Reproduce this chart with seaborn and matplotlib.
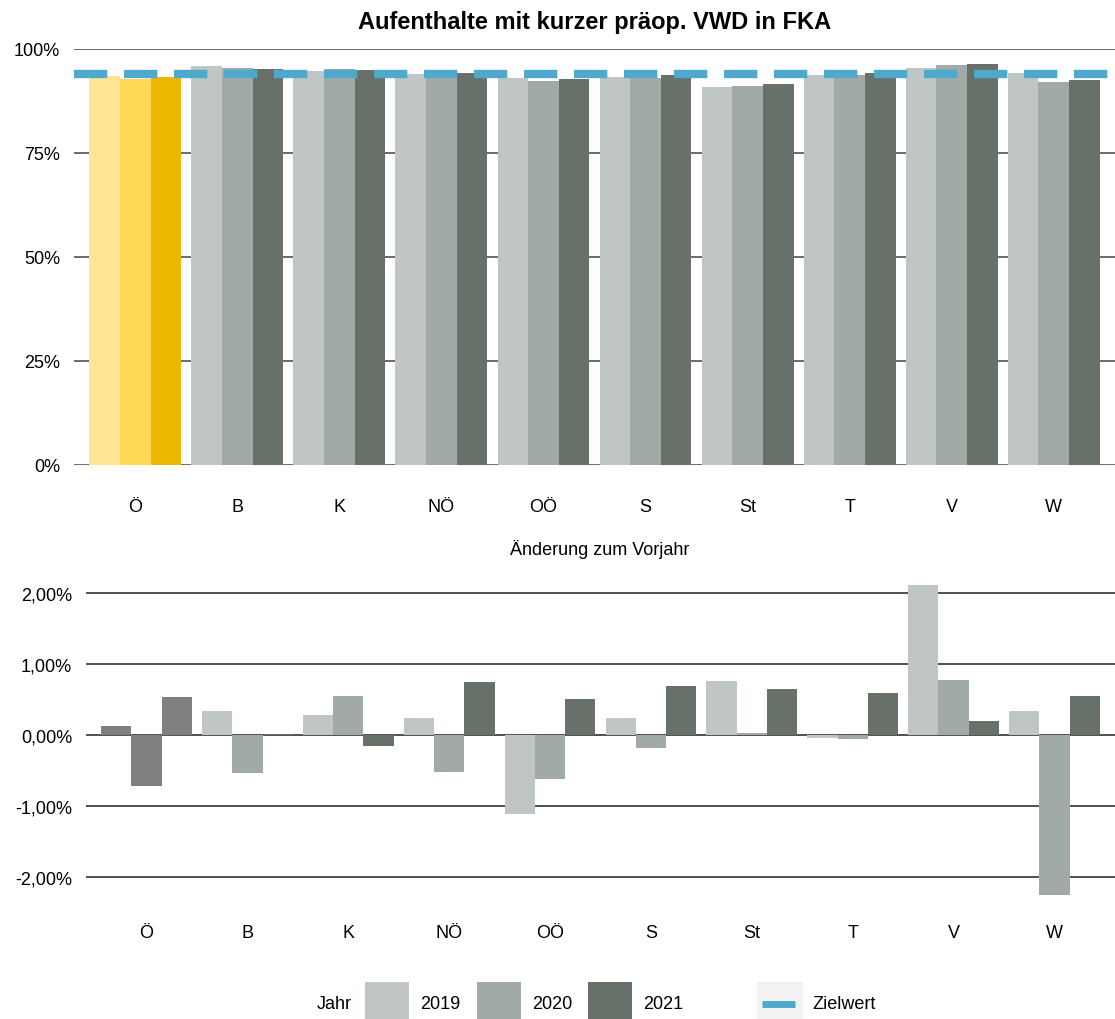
import matplotlib
matplotlib.use("Agg")
import matplotlib.pyplot as plt
from matplotlib.patches import Rectangle
from matplotlib.lines import Line2D
import pandas as pd
import seaborn as sns

# data
regions = ["Ö", "B", "K", "NÖ", "OÖ", "S", "St", "T", "V", "W"]
years = ["2019", "2020", "2021"]
share_2019 = [93.5, 95.9, 94.8, 94.0, 93.0, 93.3, 90.95, 93.75, 95.5, 94.2]
share_2020 = [92.8, 95.4, 95.3, 93.5, 92.4, 93.1, 91.0, 93.7, 96.25, 92.0]
share_2021 = [93.3, 95.2, 95.0, 94.2, 92.9, 93.75, 91.65, 94.25, 96.45, 92.55]
change_2019 = [0.12, 0.34, 0.28, 0.23, -1.11, 0.24, 0.75, -0.05, 2.10, 0.34]
change_2020 = [-0.72, -0.535, 0.54, -0.52, -0.62, -0.19, 0.03, -0.056, 0.765, -2.25]
change_2021 = [0.53, 0.005, -0.155, 0.746, 0.50, 0.68, 0.65, 0.58, 0.19, 0.54]
target = 94.0
top_ticks = [0, 25, 50, 75, 100]
top_ticklabels = ["0%", "25%", "50%", "75%", "100%"]
bottom_ticks = [-2, -1, 0, 1, 2]
bottom_ticklabels = ["-2,00%", "-1,00%", "0,00%", "1,00%", "2,00%"]

year_colors = {"2019": "#C0C6C1", "2020": "#A2AAA5", "2021": "#67716A"}
oe_colors = ["#FFE591", "#FFD956", "#EBB700"]
oe_change_color = "#808080"
target_color = "#4FA9CC"

share = pd.DataFrame({"region": regions * 3,
                      "Jahr": [y for y in years for _ in regions],
                      "value": share_2019 + share_2020 + share_2021})
change = pd.DataFrame({"region": regions * 3,
                       "Jahr": [y for y in years for _ in regions],
                       "value": change_2019 + change_2020 + change_2021})

sns.set_theme(style="white")
plt.rcParams["font.family"] = ["Liberation Sans", "DejaVu Sans"]
plt.rcParams["text.color"] = "black"

W, H = 1115, 1020
fig = plt.figure(figsize=(W / 100, H / 100), dpi=100)


def px_axes(left, top, right, bottom):
    return fig.add_axes([left / W, 1 - bottom / H, (right - left) / W, (bottom - top) / H])


# top panel
ax1 = px_axes(74, 50, 1115, 466)
sns.barplot(data=share, x="region", y="value", hue="Jahr", order=regions,
            hue_order=years, palette=year_colors, width=0.9, saturation=1,
            linewidth=0, legend=False, ax=ax1)
for cont, c in zip(ax1.containers, oe_colors):
    cont[0].set_facecolor(c)
ax1.axhline(target, color=target_color, lw=6, dashes=(4, 2), zorder=5)
ax1.set_ylim(0, 100)
ax1.set_xlim(-0.6, 9.6)
ax1.set_yticks(top_ticks)
ax1.set_yticklabels(top_ticklabels)

# bottom panel
ax2 = px_axes(86, 580, 1115, 900)
sns.barplot(data=change, x="region", y="value", hue="Jahr", order=regions,
            hue_order=years, palette=year_colors, width=0.9, saturation=1,
            linewidth=0, legend=False, ax=ax2)
for cont in ax2.containers:
    cont[0].set_facecolor(oe_change_color)
ax2.set_ylim(-2.31, 2.19)
ax2.set_xlim(-0.6, 9.6)
ax2.set_yticks(bottom_ticks)
ax2.set_yticklabels(bottom_ticklabels)

for ax, pad, gc in [(ax1, 24, "#444444"), (ax2, 18, "#222222")]:
    ax.set_xlabel("")
    ax.set_ylabel("")
    ax.set_axisbelow(True)
    ax.yaxis.grid(True, color=gc, lw=1.1)
    ax.xaxis.grid(False)
    for s in ax.spines.values():
        s.set_visible(False)
    ax.tick_params(axis="x", length=0, pad=pad, labelsize=13, colors="black")
    ax.tick_params(axis="y", length=0, pad=10, labelsize=13, colors="black")

fig.text(594.5 / W, 1 - 22 / H, "Aufenthalte mit kurzer präop. VWD in FKA",
         ha="center", va="center", fontsize=17, fontweight="bold", color="black")
fig.text(600 / W, 1 - 550 / H, "Änderung zum Vorjahr", ha="center", va="center",
         fontsize=13, color="black")

# legend at the bottom
ly = 1005
fig.text(317 / W, 1 - ly / H, "Jahr", ha="left", va="center", fontsize=13)
for x0, y in zip([365, 477, 588], years):
    fig.add_artist(Rectangle((x0 / W, 1 - 1026 / H), 44 / W, 43 / H,
                             transform=fig.transFigure, facecolor=year_colors[y],
                             edgecolor="none"))
    fig.text((x0 + 55) / W, 1 - ly / H, y, ha="left", va="center", fontsize=13)
fig.add_artist(Rectangle((757 / W, 1 - 1026 / H), 46 / W, 43 / H,
                         transform=fig.transFigure, facecolor="#F2F2F2",
                         edgecolor="none"))
fig.add_artist(Line2D([762 / W, 795 / W], [1 - ly / H, 1 - ly / H],
                      transform=fig.transFigure, color=target_color, lw=5,
                      solid_capstyle="butt"))
fig.text(812 / W, 1 - ly / H, "Zielwert", ha="left", va="center", fontsize=13)

fig.savefig("out.png", dpi=100)
